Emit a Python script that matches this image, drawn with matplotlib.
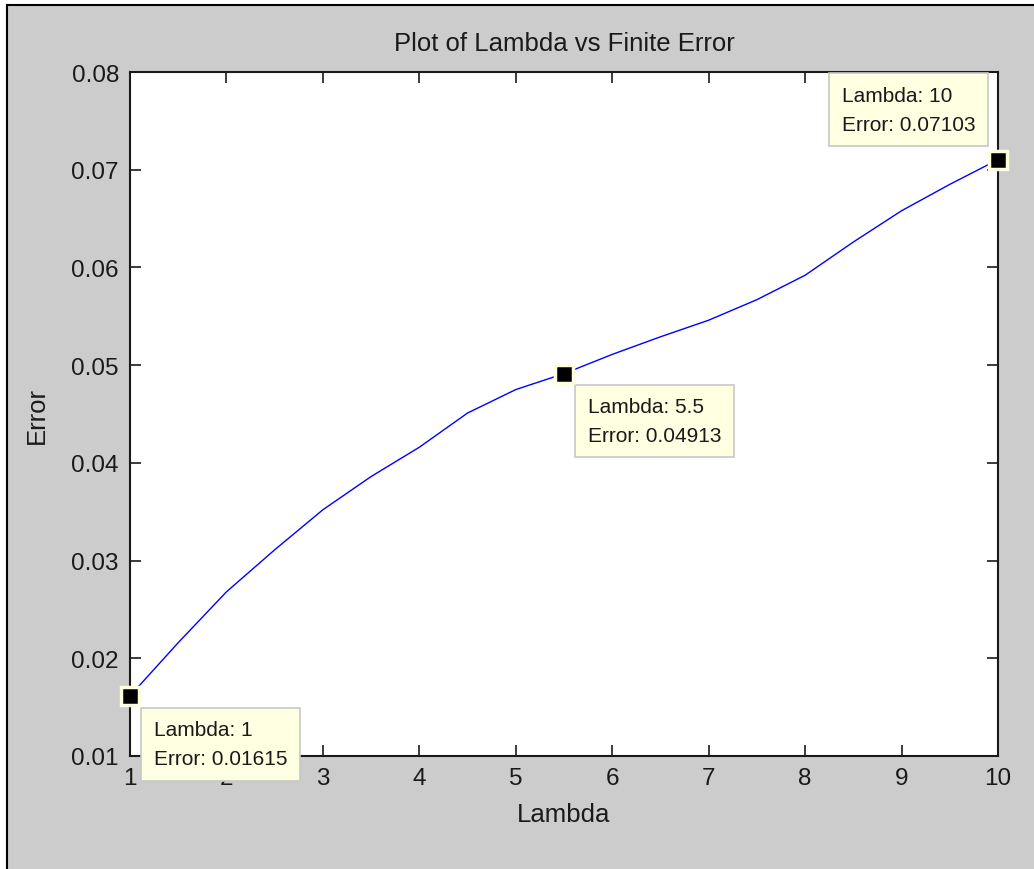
import matplotlib
matplotlib.use("Agg")
import matplotlib.pyplot as plt
from matplotlib.patches import Rectangle
from matplotlib.lines import Line2D

# lambda vs finite-difference error
lam = [1, 1.5, 2, 2.5, 3, 3.5, 4, 4.5, 5, 5.5, 6, 6.5, 7, 7.5, 8, 8.5, 9, 9.5, 10]
err = [0.01615, 0.0216, 0.0268, 0.0311, 0.0352, 0.0386, 0.0416, 0.0451, 0.0475,
       0.04913, 0.0511, 0.0529, 0.0546, 0.0567, 0.0592, 0.0626, 0.0658, 0.0685, 0.07103]

# data tips: index into the series
tips = [0, 9, 18]
xticks = list(range(1, 11))
yticks = [0.01, 0.02, 0.03, 0.04, 0.05, 0.06, 0.07, 0.08]

W, H = 1034, 870
plt.rcParams['font.family'] = ['Liberation Sans', 'DejaVu Sans']

fig = plt.figure(figsize=(W / 100, H / 100), dpi=100, facecolor='#cccccc')
# window frame: white strips on the left and top, black edge inside them
fx, fy = 6.5 / W, 1 - 5.5 / H
fig.add_artist(Rectangle((0, 0), fx, 1, transform=fig.transFigure,
                         facecolor='white', edgecolor='none', zorder=-2))
fig.add_artist(Rectangle((0, fy), 1, 1 - fy, transform=fig.transFigure,
                         facecolor='white', edgecolor='none', zorder=-2))
fig.add_artist(Line2D([fx, fx], [0, fy], transform=fig.transFigure, color='black', lw=1.5, zorder=-1))
fig.add_artist(Line2D([fx, 1], [fy, fy], transform=fig.transFigure, color='black', lw=1.5, zorder=-1))

ax = fig.add_axes([130 / W, (H - 757) / H, 868 / W, 684 / H])
ax.set_facecolor('white')
ax.plot(lam, err, color='#0000ff', lw=1.0)

ax.set_xlim(1, 10)
ax.set_ylim(0.01, 0.08)
ax.set_xticks(xticks)
ax.set_yticks(yticks)
ax.set_xticklabels([str(v) for v in xticks])
ax.set_yticklabels(['%.2f' % v for v in yticks])
ax.tick_params(direction='in', length=8, width=1.2, top=True, right=True,
               labelsize=17.5, colors='#1a1a1a', pad=8)
for s in ax.spines.values():
    s.set_linewidth(1.5)
    s.set_color('#1a1a1a')

ax.set_title('Plot of Lambda vs Finite Error', fontsize=18.5, pad=16, color='#1a1a1a')
ax.set_xlabel('Lambda', fontsize=18.5, labelpad=9, color='#1a1a1a')
ax.set_ylabel('Error', fontsize=18.5, labelpad=16, color='#1a1a1a')

box = dict(boxstyle='square,pad=0.6', facecolor='#ffffe1', edgecolor='#c8c8c8', lw=1.2)
offsets = [((23.5, -24.5), 'left', 'top'), ((23.5, -23.5), 'left', 'top'),
           ((-22.5, 26), 'right', 'bottom')]
for i, (off, ha, va) in zip(tips, offsets):
    x, y = lam[i], err[i]
    ax.annotate('Lambda: %g\nError: %.5f' % (x, y), xy=(x, y), xytext=off,
                textcoords='offset pixels', ha=ha, va=va, multialignment='left',
                fontsize=15, color='#1a1a1a', bbox=box, linespacing=1.65,
                zorder=5, annotation_clip=False)
    ax.plot(x, y, marker='s', ms=13, mfc='black', mec='#ffffe1', mew=2.5,
            zorder=6, clip_on=False)

fig.savefig('out.png', dpi=100, facecolor=fig.get_facecolor())
